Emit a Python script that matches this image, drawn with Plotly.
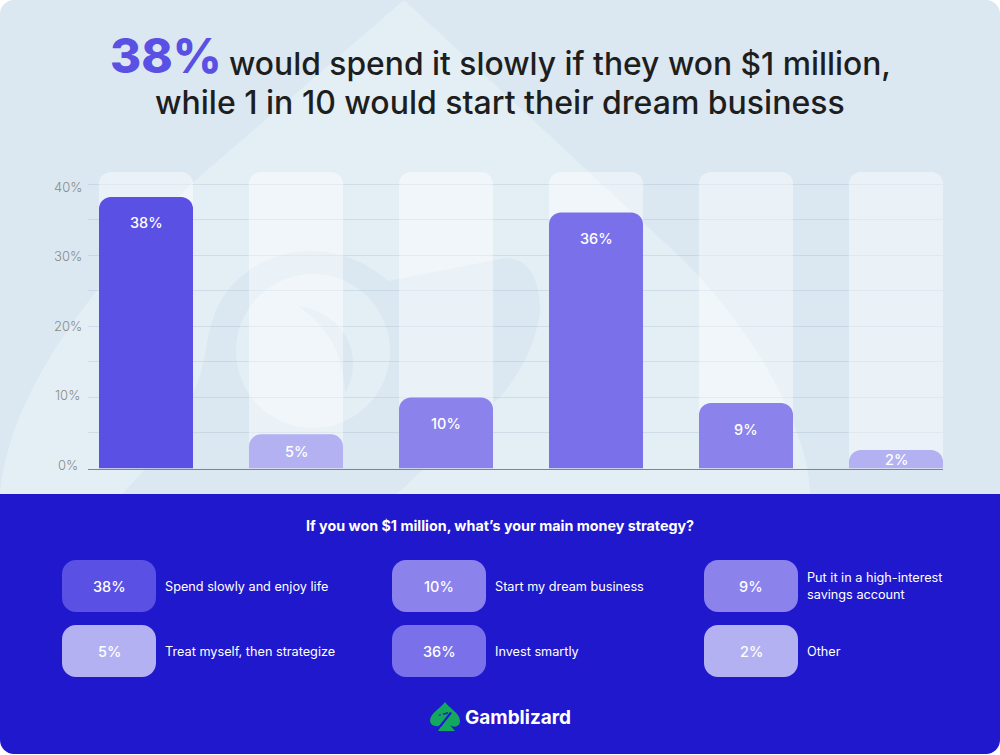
import plotly.graph_objects as go

W, H = 1000, 755
categories = ["Spend slowly and enjoy life", "Treat myself, then strategize", "Start my dream business",
              "Invest smartly", "Put it in a high-interest savings account", "Other"]
bar_values = [38.2, 4.8, 10.0, 36.0, 9.2, 2.6]
bar_labels = ["38%", "5%", "10%", "36%", "9%", "2%"]
track_values = [41.7, 41.7, 41.7, 41.7, 41.7, 41.7]
bar_colors = ["#5A50E4", "#B4B1F2", "#8B82EC", "#7A71EA", "#8B82EC", "#B4B1F2"]
y_ticks = [0, 5, 10, 15, 20, 25, 30, 35, 40]
y_labels = ["0%", "10%", "20%", "30%", "40%"]
y_label_values = [0, 10, 20, 30, 40]
legend_pct = ["38%", "5%", "10%", "36%", "9%", "2%"]
legend_text = ["Spend slowly and enjoy life", "Treat myself, then strategize", "Start my dream business",
               "Invest smartly", "Put it in a high-interest<br>savings account", "Other"]
legend_colors = ["#5A50E4", "#B4B1F2", "#8B82EC", "#7A71EA", "#8B82EC", "#B4B1F2"]
legend_x = [62, 62, 392, 392, 704, 704]
legend_y = [560, 625, 560, 625, 560, 625]

FONT = "Inter"
fx = lambda x: x / W
fy = lambda y: 1 - y / H


def path(*items):
    out = []
    for it in items:
        if isinstance(it, str):
            out.append(it)
        else:
            out.append(f"{fx(it[0]):.5f},{fy(it[1]):.5f}")
    return " ".join(out)


def rrect(x0, y0, x1, y1, rtl, rtr=None, rbr=None, rbl=None):
    rtr = rtl if rtr is None else rtr
    rbr = rtl if rbr is None else rbr
    rbl = rtl if rbl is None else rbl
    k = 0.45
    return path("M", (x0 + rtl, y0), "L", (x1 - rtr, y0),
                "C", (x1 - rtr * k, y0), (x1, y0 + rtr * k), (x1, y0 + rtr),
                "L", (x1, y1 - rbr),
                "C", (x1, y1 - rbr * k), (x1 - rbr * k, y1), (x1 - rbr, y1),
                "L", (x0 + rbl, y1),
                "C", (x0 + rbl * k, y1), (x0, y1 - rbl * k), (x0, y1 - rbl),
                "L", (x0, y0 + rtl),
                "C", (x0, y0 + rtl * k), (x0 + rtl * k, y0), (x0 + rtl, y0), "Z")


def shape(d, color):
    return dict(type="path", path=d, xref="paper", yref="paper", fillcolor=color,
                line=dict(width=0), layer="below")


def circle(cx, cy, r, color):
    return dict(type="circle", xref="paper", yref="paper", x0=fx(cx - r), x1=fx(cx + r),
                y0=fy(cy + r), y1=fy(cy - r), fillcolor=color, line=dict(width=0), layer="below")


BG, LIGHT = "#DBE8F1", "#E4EFF5"
PANEL = "#2018CC"
shapes = [
    shape(rrect(0, 0, 1000, 494, 14, 14, 0, 0), BG),
    # spade watermark
    shape(path("M", (404, 0), "L", (190, 185), "C", (110, 270), (10, 380), (0, 494), "L", (810, 494),
               "C", (808, 420), (745, 320), (680, 257), "Z"), LIGHT),
    shape(path("M", (122, 494), "C", (150, 465), (185, 425), (193, 393), "C", (205, 370), (205, 345), (210, 330),
               "C", (220, 280), (265, 251), (310, 251), "C", (345, 251), (370, 265), (388, 281),
               "L", (505, 258), "C", (535, 258), (540, 290), (540, 312),
               "C", (535, 350), (515, 380), (500, 397), "L", (397, 494), "Z"), BG),
    circle(313, 351, 77, LIGHT),
    shape(path("M", (298, 306), "C", (330, 310), (353, 335), (353, 362), "C", (353, 375), (350, 385), (345, 392),
               "C", (343, 350), (325, 325), (298, 306), "Z"), BG),
    # lower panel
    shape(rrect(0, 494, 1000, 754, 0, 0, 14, 14), PANEL),
    # logo
    shape(path("M", (445, 702), "C", (450, 709), (460, 713), (460, 721), "C", (460, 727), (454, 728), (450, 725),
               "L", (455, 731), "L", (438, 731), "L", (442, 725),
               "C", (438, 727), (431, 727), (430, 721),
               "C", (430, 713), (440, 709), (445, 702), "Z"), "#14A85E"),
    shape(path("M", (450, 712), "L", (452, 713), "L", (441, 727), "L", (439, 726), "Z"), PANEL),
    shape(path("M", (438, 715), "L", (448, 712), "L", (448, 713.5), "L", (441, 716), "Z"), PANEL),
    circle(442, 715, 1.6, "#14A85E"),
]
for x, y, c in zip(legend_x, legend_y, legend_colors):
    shapes.append(shape(rrect(x, y, x + 94, y + 52, 14), c))

annotations = []


def text(x, y, s, size, color, weight=400, anchor="center", align=None):
    annotations.append(dict(x=fx(x), y=fy(y), xref="paper", yref="paper", text=s, showarrow=False,
                            xanchor=anchor, yanchor="middle", align=align or anchor,
                            font=dict(family=FONT, size=size, color=color, weight=weight)))


text(107.5, 56, "38%", 47.5, "#5A50E4", 800, "left")
text(227, 63, "would spend it slowly if they won $1 million,", 31.8, "#1E1E1E", 500, "left")
text(500, 103, "while 1 in 10 would start their dream business", 32, "#1E1E1E", 500)
text(500, 525, "If you won $1 million, what’s your main money strategy?", 14.3, "#FFFFFF", 700)
text(518, 717, "Gamblizard", 19, "#FFFFFF", 700)

for x, y, p, t in zip(legend_x, legend_y, legend_pct, legend_text):
    text(x + 47, y + 26, p, 14.5, "#FFFFFF", 500)
    text(x + 101, y + 26, t, 12.7, "#FFFFFF", 400, "left")

for lab, v in zip(y_labels, y_label_values):
    annotations.append(dict(x=fx(67.5), xref="paper", y=v, yref="y", text=lab, showarrow=False,
                            xanchor="center", yanchor="middle", yshift=4 - 7 * v / 40,
                            font=dict(family=FONT, size=13, color="#8A8A8A", weight=300)))

PX_PER = 7.11
xs = list(range(len(categories)))
for i, (v, lab) in enumerate(zip(bar_values, bar_labels)):
    annotations.append(dict(x=i, xref="x", y=v, yref="y", text=lab, showarrow=False,
                            xanchor="center", yanchor="middle", yshift=-min(26, v * PX_PER / 2),
                            font=dict(family=FONT, size=14.5, color="#FFFFFF", weight=500)))

fig = go.Figure()
fig.add_bar(x=xs, y=track_values, width=94 / 150, xaxis="x", yaxis="y",
            marker=dict(color="rgba(255,255,255,0.45)", cornerradius=12, line_width=0),
            hoverinfo="skip", showlegend=False)
fig.add_bar(x=xs, y=bar_values, width=94 / 150, xaxis="x2", yaxis="y2",
            marker=dict(color=bar_colors, cornerradius=12, line_width=0),
            showlegend=False, customdata=categories, hovertemplate="%{customdata}: %{y}%<extra></extra>")

y0_px, top_val = 468.5, 42
top_px = y0_px - top_val * PX_PER
x_dom = [88 / W, 943 / W]
x_rng = [(88 - 146) / 150, (943 - 146) / 150]
y_dom = [fy(y0_px), fy(top_px)]
y_rng = [0, top_val]
fig.update_layout(
    width=W, height=H, margin=dict(l=0, r=0, t=0, b=0), autosize=False,
    paper_bgcolor="#FFFFFF", plot_bgcolor="rgba(0,0,0,0)",
    shapes=shapes, annotations=annotations,
    xaxis=dict(domain=x_dom, range=x_rng, showgrid=False, showticklabels=False, ticks="", zeroline=False,
               fixedrange=True),
    yaxis=dict(domain=y_dom, range=y_rng, tickvals=y_ticks, showticklabels=False,
               gridcolor="rgba(150,175,195,0.28)", gridwidth=1, zeroline=False, ticks="", fixedrange=True),
    xaxis2=dict(domain=x_dom, range=x_rng, overlaying="x", anchor="y2", showgrid=False, showline=True,
                linecolor="#7C8590", linewidth=1, showticklabels=False, ticks="", zeroline=False, fixedrange=True),
    yaxis2=dict(domain=y_dom, range=y_rng, overlaying="y", anchor="x2", showgrid=False, showticklabels=False,
                ticks="", zeroline=False, fixedrange=True),
)
fig.write_html("out.html", config=dict(displayModeBar=False),
               post_script="document.body.style.margin='0';document.body.style.overflow='hidden';")
